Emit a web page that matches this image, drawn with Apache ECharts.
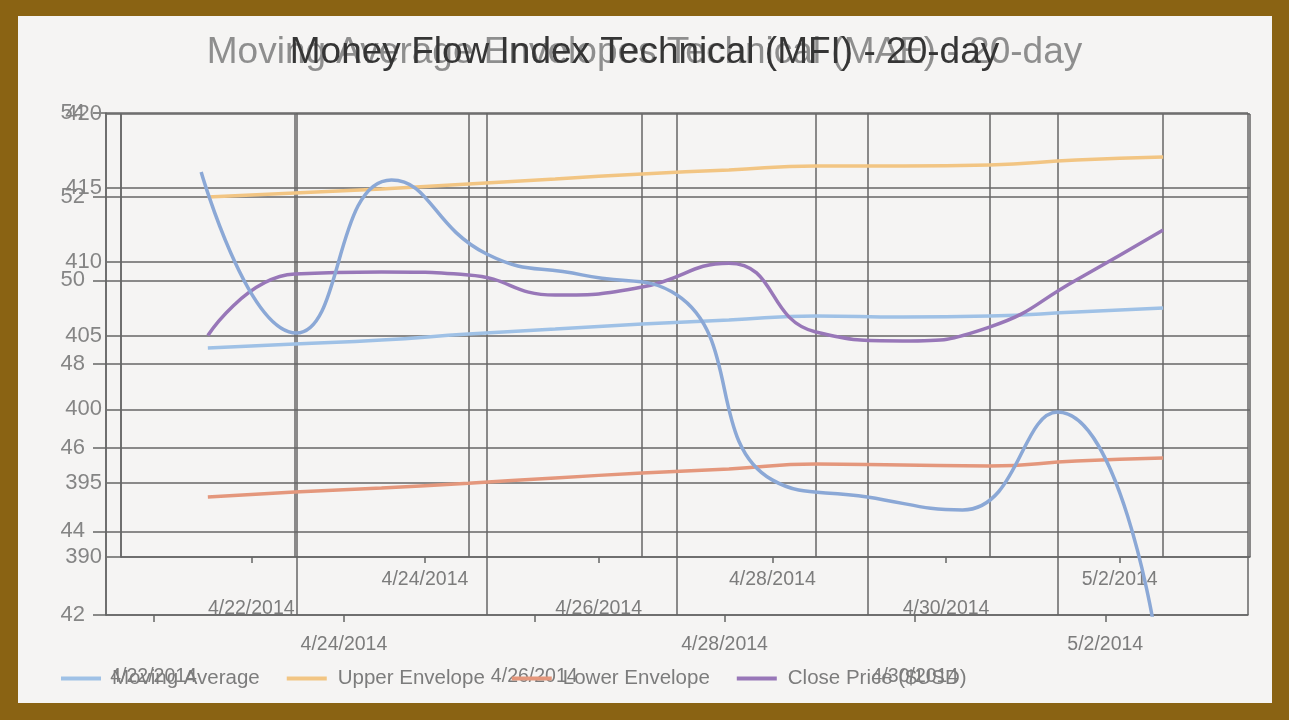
<!DOCTYPE html>
<html><head><meta charset="utf-8">
<script src="https://cdn.jsdelivr.net/npm/echarts@6/dist/echarts.min.js"></script>
<style>
html,body{margin:0;padding:0;width:1289px;height:720px;overflow:hidden;background:#8a6313;}
#bg{position:absolute;left:18px;top:16px;width:1254px;height:687px;background:#f5f4f3;}
#chart{position:absolute;left:0;top:0;width:1289px;height:720px;}
</style></head><body>
<div id="bg"></div><div id="chart"></div>
<script>
const titleA = 'Moving Average Envelopes Technical (MAE) - 20-day';
const titleB = 'Money Flow Index Technical (MFI) - 20-day';
const dateLabels = ['4/22/2014','4/24/2014','4/26/2014','4/28/2014','4/30/2014','5/2/2014'];
const labelDays = [0,2,4,6,8,10];
// chart A (MA envelopes): 12 daily points, x = trading-day index 1..12
const maX = [1,2,3,4,5,6,7,8,9,10,11,12];
const movingAverage = [404.15,404.42,404.69,405.1,405.44,405.78,406.05,406.32,406.25,406.32,406.59,406.86];
const upperEnvelope = [414.38,414.65,414.92,415.26,415.6,415.94,416.21,416.48,416.48,416.55,416.88,417.09];
const lowerEnvelope = [394.06,394.4,394.67,395.0,395.35,395.69,395.96,396.3,396.23,396.16,396.5,396.7];
const closePrice = [405.0,409.16,409.3,409.1,407.74,408.28,409.9,405.24,404.63,405.57,408.76,412.14];
// chart B (MFI): 11 points, x = 1..11
const mfiX = [1,2,3,4,5,6,7,8,9,10,11];
const mfi = [52.59,48.74,52.4,50.63,50.13,49.65,45.23,44.82,44.51,46.85,41.88];
const yTicksA = [390,395,400,405,410,415,420];
const yTicksB = [42,44,46,48,50,52,54];

const FONT = "'Liberation Sans', Arial, sans-serif";
const GRID = '#666666';
const LBL = '#7c7c7c';

function dateFmt(offset){
  return function(v){
    const d = Math.round((v - offset)*2)/2;
    const i = labelDays.indexOf(d);
    if (i < 0) return '';
    return (i % 2 === 0 ? '\n' : '') + dateLabels[i];
  };
}
const labelXA = labelDays.map(d => d + 1.5);
const labelXB = labelDays.map(d => d + 0.5);

function pts(xs, ys){ return xs.map((x,i)=>[x, ys[i]]); }
function lineSeries(name, xs, ys, color, xi, yi, width){
  return {name, type:'line', xAxisIndex:xi, yAxisIndex:yi, data:pts(xs,ys), smooth:0.5,
    symbol:'none', showSymbol:false, lineStyle:{width:width||3.5, color}, itemStyle:{color}, z:3};
}
function gridAxis(gi, max){
  return {type:'value', gridIndex:gi, position:'bottom', min:0, max:max, interval:2,
    axisLine:{show:true, lineStyle:{color:GRID, width:1.5}},
    splitLine:{show:true, lineStyle:{color:GRID, width:1.5}},
    axisTick:{show:false}, axisLabel:{show:false}};
}
function labelAxis(gi, max, vals, offset, tickLen, margin, lh){
  return {type:'value', gridIndex:gi, position:'bottom', offset:0, min:0, max:max, interval:2,
    axisLine:{show:false}, splitLine:{show:false},
    axisTick:{show:true, customValues:vals, length:tickLen, lineStyle:{color:GRID, width:1.5}},
    axisLabel:{show:true, customValues:vals, formatter:dateFmt(offset), margin:margin, fontSize:19.5, lineHeight:lh, color:LBL, fontFamily:FONT}};
}

const chart = echarts.init(document.getElementById('chart'), null, {renderer:'canvas'});
chart.setOption({
  backgroundColor:'transparent',
  animation:false,
  textStyle:{fontFamily:FONT},
  title:[
    {text:titleA, left:'center', top:29, textStyle:{fontSize:37, fontWeight:'normal', color:'#8e8e8e', fontFamily:FONT}},
    {text:titleB, left:'center', top:29, textStyle:{fontSize:37, fontWeight:'normal', color:'#353535', fontFamily:FONT}}
  ],
  legend:{left:56, top:663, icon:'rect', itemWidth:40, itemHeight:4, itemGap:27,
    textStyle:{fontSize:20.5, color:LBL, fontFamily:FONT, padding:[0,0,0,6]},
    data:['Moving Average','Upper Envelope','Lower Envelope','Close Price ($USD)']},
  grid:[
    {left:121, right:39, top:114, bottom:163},
    {left:106, right:41, top:113, bottom:105}
  ],
  xAxis:[
    gridAxis(0, 13),
    labelAxis(0, 13, labelXA, 1.5, 6, 8, 29),
    gridAxis(1, 12),
    labelAxis(1, 12, labelXB, 0.5, 7, 14, 32)
  ],
  yAxis:[
    {type:'value', gridIndex:0, min:yTicksA[0], max:yTicksA[yTicksA.length-1], interval:5,
      axisLine:{show:true, lineStyle:{color:GRID, width:1.5}},
      axisTick:{show:true, length:14, lineStyle:{color:GRID, width:1.5}},
      splitLine:{show:true, lineStyle:{color:GRID, width:1.5}},
      axisLabel:{margin:19, fontSize:22, color:'#858585', fontFamily:FONT}},
    {type:'value', gridIndex:1, min:yTicksB[0], max:yTicksB[yTicksB.length-1], interval:2,
      axisLine:{show:true, lineStyle:{color:GRID, width:1.5}},
      axisTick:{show:true, length:13, lineStyle:{color:GRID, width:1.5}},
      splitLine:{show:true, lineStyle:{color:GRID, width:1.5}},
      axisLabel:{margin:21, fontSize:22, color:'#858585', fontFamily:FONT}}
  ],
  series:[
    lineSeries('Moving Average', maX, movingAverage, '#9fc1e6', 0, 0),
    lineSeries('Upper Envelope', maX, upperEnvelope, '#f2c583', 0, 0),
    lineSeries('Lower Envelope', maX, lowerEnvelope, '#e4977c', 0, 0),
    lineSeries('Close Price ($USD)', maX, closePrice, '#9877b8', 0, 0),
    lineSeries('Money Flow Index', mfiX, mfi, '#8ba8d6', 2, 1, 3.5)
  ]
});
</script></body></html>
